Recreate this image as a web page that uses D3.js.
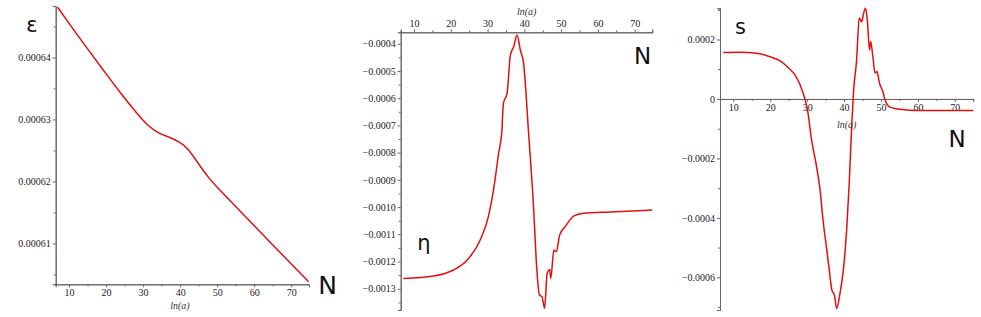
<!DOCTYPE html>
<html>
<head>
<meta charset="utf-8">
<script src="https://cdn.jsdelivr.net/npm/d3@7"></script>
<style>
  body { margin: 0; background: #fff; }
  .tick text { font-family: 'Liberation Serif', serif; font-size: 10px; fill: #222; }
  .domain, .tick line { stroke: #666; }
  .xlab { font-family: 'Liberation Serif', serif; font-style: italic; font-size: 10px; fill: #333; }
  .big { font-family: 'DejaVu Sans', sans-serif; fill: #111; }
</style>
</head>
<body>
<svg width="981" height="317"></svg>
<script>
// epsilon vs N (left)
const epsN = [6.9, 10.7, 15.2, 19.7, 24.2, 28.7, 31.4, 34.1, 36.8, 39.9, 42.2, 44.9, 47.5, 50.2, 55.6, 60.1, 64.6, 70.0, 74.7]
const epsV = [0.0006481, 0.0006449, 0.0006412, 0.0006376, 0.0006340, 0.0006307, 0.0006289, 0.0006278, 0.0006272,
  0.0006264, 0.0006253, 0.0006229, 0.0006207, 0.0006189, 0.0006156, 0.0006128, 0.0006100, 0.0006067, 0.0006038]

// eta vs N (middle)
const etaN = [7.1, 15.3, 20.7, 24.4, 28.0, 30.2, 31.6, 33.0, 33.9, 34.3, 35.3, 36.2, 37.1, 38.0, 38.9, 39.8, 41.1, 42.5,
  43.4, 44.1, 44.8, 45.5, 46.2, 46.9, 47.2, 48.0, 48.7, 49.6, 51.1, 53.4, 56.1, 63.4, 74.8]
const etaV = [-0.001262, -0.001253, -0.001231, -0.001195, -0.001121, -0.001036, -0.000938, -0.000803, -0.000717,
  -0.000619, -0.000582, -0.000442, -0.000411, -0.000368, -0.000423, -0.000472, -0.000717, -0.000999,
  -0.001231, -0.001323, -0.001329, -0.001372, -0.001244, -0.001229, -0.001262, -0.001158, -0.001164,
  -0.001103, -0.001072, -0.001033, -0.001023, -0.001018, -0.001011]

// s vs N (right)
const sN = [7.3, 11.8, 16.3, 19.9, 22.7, 24.9, 26.7, 28.1, 29.2, 30.1, 31.2, 32.4, 33.5, 34.4, 35.3, 36.0, 36.7, 37.4,
  38.0, 38.9, 39.8, 40.7, 41.4, 42.1, 42.6, 43.4, 44.1, 44.8, 45.2, 45.8, 46.3, 46.9, 47.2, 47.8, 48.4, 48.9,
  49.6, 50.5, 51.1, 52.0, 53.4, 55.2, 60.1, 75.0]
const sV = [0.000156, 0.000157, 0.000154, 0.000142, 0.000128, 0.000105, 0.000081, 0.000047, 0.000008, -0.000037,
  -0.000138, -0.000217, -0.000306, -0.000419, -0.000505, -0.000576, -0.000643, -0.000660, -0.000705, -0.000654,
  -0.000576, -0.000441, -0.000284, -0.000082, 0.000030, 0.000131, 0.000272, 0.000260, 0.000283, 0.000305,
  0.000266, 0.000165, 0.000193, 0.000142, 0.000087, 0.000092, 0.000053, 0.000025, -0.000003, -0.000024,
  -0.000031, -0.000035, -0.000039, -0.000039]

const nTicks = [10, 20, 30, 40, 50, 60, 70]
const nMinor = [5, 15, 25, 35, 45, 55, 65]
const epsTicks = [0.00061, 0.00062, 0.00063, 0.00064]
const epsMinor = [0.000605, 0.000615, 0.000625, 0.000635, 0.000645]
const etaTicks = [-0.0013, -0.0012, -0.0011, -0.0010, -0.0009, -0.0008, -0.0007, -0.0006, -0.0005, -0.0004]
const etaMinor = [-0.00135, -0.00125, -0.00115, -0.00105, -0.00095, -0.00085, -0.00075, -0.00065, -0.00055, -0.00045]
const sTicks = [-0.0006, -0.0004, -0.0002, 0, 0.0002]
const sMinor = [-0.0007, -0.0005, -0.0003, -0.0001, 0.0001, 0.0003]

const svg = d3.select('svg')

function panel(o) {
  const x = d3.scaleLinear().domain(o.xDom).range([o.left, o.right])
  const y = d3.scaleLinear().domain(o.yDom).range([o.bottom, o.top])
  const g = svg.append('g')

  // y axis
  g.append('g')
    .attr('transform', `translate(${o.left},0)`)
    .call(d3.axisLeft(y).tickValues(o.yMinor.filter(v => v <= d3.max(o.yDom) && v >= d3.min(o.yDom))).tickSize(2).tickFormat(''))
  g.append('g')
    .attr('transform', `translate(${o.left},0)`)
    .call(d3.axisLeft(y).tickValues(o.yTicks).tickSize(3).tickPadding(2).tickFormat(o.yFmt))

  // x axis
  const xAt = o.xAxisY(y)
  const mk = o.xTop ? d3.axisTop : d3.axisBottom
  g.append('g')
    .attr('transform', `translate(0,${xAt})`)
    .call(mk(x).tickValues(nMinor.filter(v => v > o.xDom[0])).tickSize(2).tickFormat(''))
  g.append('g')
    .attr('transform', `translate(0,${xAt})`)
    .call(mk(x).tickValues(nTicks).tickSize(3).tickPadding(2).tickFormat(d3.format('d')))

  g.selectAll('.domain').attr('stroke', '#666')

  g.append('path')
    .datum(o.xs.map((d, i) => [d, o.ys[i]]))
    .attr('fill', 'none')
    .attr('stroke', '#e01010')
    .attr('stroke-width', 1.5)
    .attr('d', d3.line().x(d => x(d[0])).y(d => y(d[1])).curve(o.curve || d3.curveMonotoneX))

  g.append('text')
    .attr('class', 'xlab')
    .attr('x', o.xlab[0]).attr('y', o.xlab[1])
    .attr('text-anchor', 'middle')
    .text('ln(a)')

  o.labels.forEach(l => {
    g.append('text')
      .attr('class', 'big')
      .attr('x', l.x).attr('y', l.y)
      .attr('font-size', l.size)
      .attr('text-anchor', 'middle')
      .text(l.t)
  })
}

panel({
  left: 55.7, right: 309, top: 6, bottom: 284.3,
  xDom: [6.4, 74.8], yDom: [0.0006034, 0.0006483],
  yTicks: epsTicks, yMinor: epsMinor, yFmt: d3.format('.5f'),
  xAxisY: y => 284.3, xTop: false,
  xs: epsN, ys: epsV, curve: d3.curveBasis,
  xlab: [180, 309],
  labels: [{ t: 'ε', x: 32, y: 32, size: 21 }, { t: 'N', x: 327.5, y: 294, size: 25 }]
})

panel({
  left: 400.7, right: 652.3, top: 32.3, bottom: 310,
  xDom: [6.37, 74.8], yDom: [-0.001378, -0.000358],
  yTicks: etaTicks, yMinor: etaMinor, yFmt: d3.format('.4f'),
  xAxisY: y => 32.3, xTop: true,
  xs: etaN, ys: etaV,
  xlab: [526.7, 15],
  labels: [{ t: 'η', x: 424, y: 250, size: 21 }, { t: 'N', x: 642.5, y: 63.5, size: 23 }]
})

panel({
  left: 720, right: 973.3, top: 8.3, bottom: 310,
  xDom: [6.4, 75], yDom: [-0.00071, 0.000305],
  yTicks: sTicks, yMinor: sMinor, yFmt: d => d === 0 ? '0' : d3.format('.4f')(d),
  xAxisY: y => y(0), xTop: false,
  xs: sN, ys: sV,
  xlab: [846.7, 128],
  labels: [{ t: 's', x: 740.5, y: 34, size: 21 }, { t: 'N', x: 957, y: 147, size: 23 }]
})
</script>
</body>
</html>
